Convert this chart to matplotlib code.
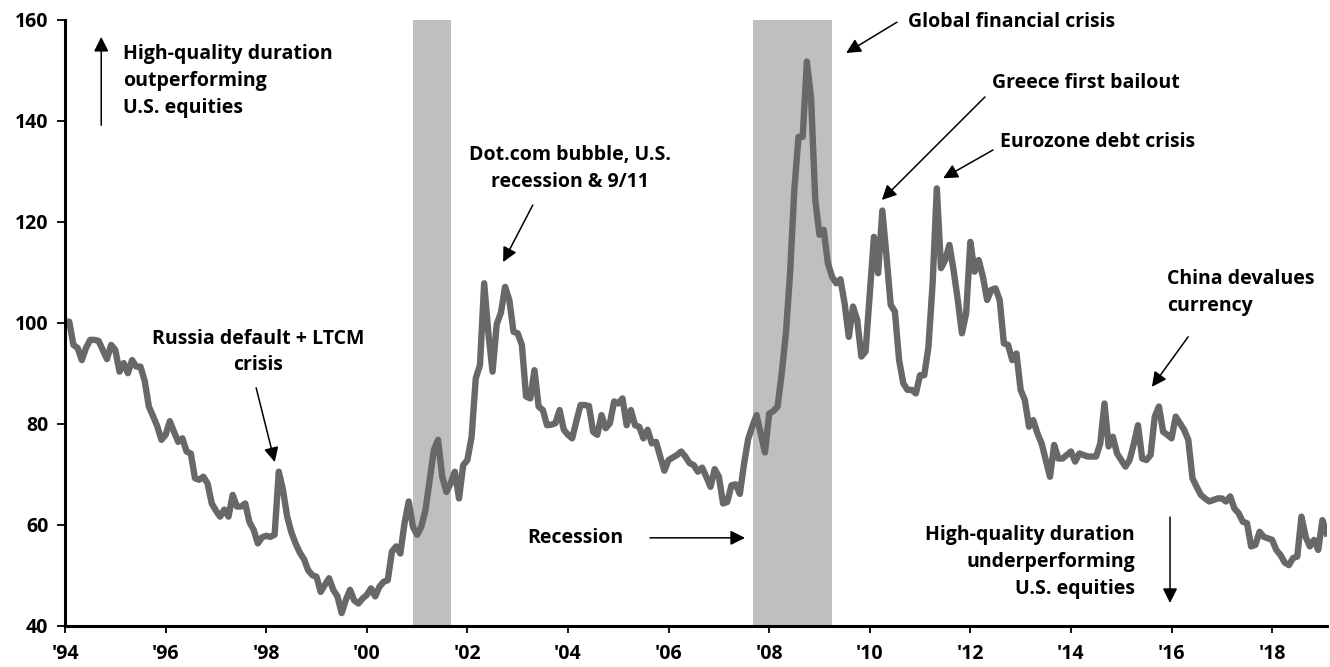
import numpy as np
import matplotlib
matplotlib.use("Agg")
import matplotlib.pyplot as plt

# monthly ratio, Jan 1994 .. Feb 2019
ratio = [
    100.2, 100.2, 95.6, 95.0, 92.6, 95.0, 96.6, 96.6, 96.4, 94.6,
    92.8, 95.6, 94.6, 90.3, 92.0, 90.0, 92.6, 91.3, 91.3, 88.5,
    83.4, 81.5, 79.5, 76.8, 77.8, 80.5, 78.4, 76.4, 77.1, 74.5,
    74.1, 69.2, 68.9, 69.5, 68.2, 64.2, 62.8, 61.6, 63.0, 61.6,
    65.9, 63.6, 63.6, 64.2, 60.5, 59.0, 56.3, 57.5, 57.8, 57.6,
    58.0, 70.5, 66.9, 61.6, 58.5, 56.3, 54.5, 53.2, 51.0, 50.0,
    49.7, 46.7, 48.1, 49.4, 47.1, 45.8, 42.5, 45.1, 47.1, 45.0,
    44.4, 45.4, 46.1, 47.4, 45.8, 47.7, 48.7, 49.0, 54.7, 55.7,
    54.3, 60.3, 64.6, 59.6, 58.0, 59.6, 62.9, 68.9, 74.8, 76.8,
    69.5, 66.5, 68.2, 70.5, 65.2, 71.8, 72.8, 77.4, 89.0, 91.6,
    107.8, 98.0, 90.3, 99.7, 102.0, 107.1, 104.5, 98.2, 97.9, 95.6,
    85.4, 85.0, 90.6, 83.4, 82.7, 79.7, 79.8, 80.1, 82.7, 78.8,
    77.8, 77.1, 80.5, 83.7, 83.7, 83.5, 78.4, 77.8, 81.7, 79.1,
    80.1, 84.4, 84.0, 85.0, 79.7, 82.7, 79.7, 79.4, 77.1, 78.8,
    76.1, 76.4, 73.5, 70.7, 72.8, 73.3, 73.8, 74.5, 73.5, 72.2,
    71.8, 70.5, 71.3, 69.5, 67.5, 71.0, 69.5, 64.2, 64.5, 67.8,
    68.0, 66.1, 72.0, 77.0, 79.5, 81.7, 78.0, 74.3, 82.0, 82.5,
    83.4, 90.0, 98.0, 110.0, 126.3, 136.8, 136.8, 151.7, 144.4, 124.3,
    117.4, 118.4, 111.8, 109.1, 107.8, 108.6, 103.8, 97.2, 103.2, 100.6,
    93.3, 94.3, 105.8, 117.0, 109.8, 122.2, 113.1, 103.5, 102.2, 92.6,
    88.0, 86.7, 86.7, 86.0, 89.6, 89.6, 95.2, 107.8, 126.6, 110.8,
    112.4, 115.4, 110.4, 104.5, 97.9, 101.9, 116.0, 110.1, 112.4, 109.1,
    104.5, 106.5, 106.8, 104.5, 95.9, 95.6, 92.6, 93.9, 86.7, 84.7,
    79.4, 80.7, 78.1, 76.1, 72.8, 69.5, 75.8, 73.1, 73.1, 73.8,
    74.5, 72.5, 74.1, 73.8, 73.5, 73.5, 73.5, 76.1, 84.0, 75.5,
    77.4, 74.1, 72.8, 71.5, 72.8, 76.0, 79.7, 73.1, 72.8, 73.8,
    81.4, 83.4, 78.4, 77.8, 77.1, 81.4, 80.1, 78.8, 76.8, 69.2,
    67.5, 65.9, 65.2, 64.6, 64.9, 65.2, 65.2, 64.6, 65.6, 63.2,
    62.3, 60.6, 60.3, 55.7, 56.0, 58.6, 57.6, 57.3, 57.0, 55.0,
    54.0, 52.5, 52.0, 53.4, 53.7, 61.6, 57.6, 55.7, 57.0, 55.0,
    60.9, 58.3,
]
start_year = 1994

recession_start = [2000.92, 2007.67]
recession_end = [2001.67, 2009.25]

tick_years = list(range(1994, 2019, 2))
tick_labels = ["'" + str(y)[2:] for y in tick_years]
y_ticks = [40, 60, 80, 100, 120, 140, 160]

LINE = "#686868"
BAND = "#bfbfbf"
plt.rcParams["font.family"] = ["Open Sans", "DejaVu Sans"]

x = start_year + np.arange(len(ratio)) / 12.0

fig = plt.figure(figsize=(13.3, 6.67), dpi=100)
ax = fig.add_axes([0.0489, 0.0619, 0.9488, 0.9086])

for s, e in zip(recession_start, recession_end):
    ax.axvspan(s, e, color=BAND, lw=0, zorder=0)

ax.plot(x, ratio, color=LINE, lw=4.6, solid_joinstyle="round", zorder=2)

ax.set_xlim(1994, 2019.09)
ax.set_ylim(40, 160)
ax.set_xticks(tick_years)
ax.set_xticklabels(tick_labels)
ax.set_yticks(y_ticks)

for sp in ["top", "right"]:
    ax.spines[sp].set_visible(False)
for sp in ["left", "bottom"]:
    ax.spines[sp].set_linewidth(2.2)
ax.tick_params(axis="y", length=6, width=1.3, pad=6, labelsize=14)
ax.tick_params(axis="x", length=5, width=1.3, pad=8, labelsize=14)
for lab in ax.get_xticklabels() + ax.get_yticklabels():
    lab.set_fontweight("bold")

tkw = dict(fontsize=14, fontweight="bold", linespacing=1.45, zorder=5)
akw = dict(arrowstyle="-|>", color="black", lw=1.1, mutation_scale=22, shrinkA=0, shrinkB=0)


def arrow(tail, head):
    ax.annotate("", xy=head, xytext=tail, arrowprops=akw, zorder=5)


ax.text(1995.15, 147.9, "High-quality duration\noutperforming\nU.S. equities",
        ha="left", va="center", **tkw)
arrow((1994.72, 139.1), (1994.72, 156.6))

ax.text(1997.84, 94.2, "Russia default + LTCM\ncrisis", ha="center", va="center", **tkw)
arrow((1997.80, 87.1), (1998.17, 72.4))

ax.text(2004.04, 130.6, "Dot.com bubble, U.S.\nrecession & 9/11", ha="center", va="center", **tkw)
arrow((2003.30, 123.3), (2002.71, 112.0))

ax.text(2004.14, 57.4, "Recession", ha="center", va="center", **tkw)
arrow((2005.63, 57.4), (2007.52, 57.4))

ax.text(2010.76, 159.5, "Global financial crisis", ha="left", va="center", **tkw)
arrow((2010.54, 159.5), (2009.53, 153.4))

ax.text(2012.43, 147.5, "Greece first bailout", ha="left", va="center", **tkw)
arrow((2012.29, 144.7), (2010.24, 124.3))

ax.text(2012.59, 135.8, "Eurozone debt crisis", ha="left", va="center", **tkw)
arrow((2012.45, 134.2), (2011.46, 128.6))

ax.text(2015.91, 106.0, "China devalues\ncurrency", ha="left", va="center", **tkw)
arrow((2016.33, 97.2), (2015.61, 87.3))

ax.text(2015.27, 52.6, "High-quality duration\nunderperforming\nU.S. equities",
        ha="right", va="center", multialignment="right", **tkw)
arrow((2015.97, 61.5), (2015.97, 44.5))

fig.savefig("out.png", dpi=100)
